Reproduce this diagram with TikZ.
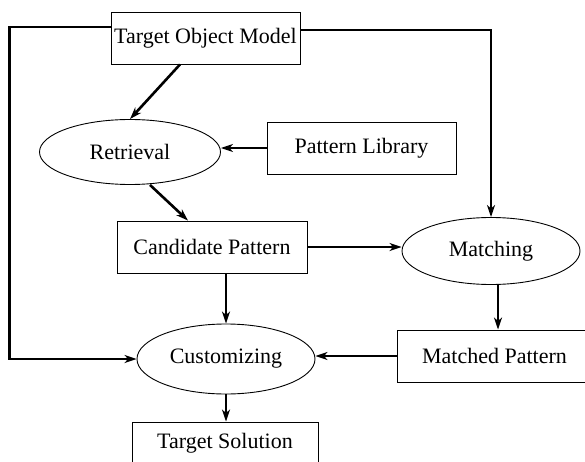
\documentclass[tikz,border=0pt]{standalone}
\usepackage{fontspec}
\setmainfont{Liberation Serif}
\usetikzlibrary{shapes.geometric,arrows.meta}
\begin{document}
\begin{tikzpicture}[x=1pt,y=-1pt,
  font=\fontsize{22}{26}\selectfont,
  box/.style={draw,line width=0.9pt,rectangle,inner sep=0pt,minimum height=52pt},
  oval/.style={draw,line width=0.9pt,ellipse,inner sep=0pt},
  flow/.style={line width=2.6pt,-{Stealth[length=12pt,width=8pt,inset=3.5pt]}}]
\clip (0,0) rectangle (585,462);

% boxes
\node[box,minimum width=189pt] (tom) at (205.5,38) {Target Object Model};
\node[box,minimum width=189pt] (lib) at (361.5,148) {Pattern Library};
\node[box,minimum width=190pt] (cand) at (212,247) {Candidate Pattern};
\node[box,minimum width=195pt] (matched) at (494.5,356) {Matched Pattern};
\node[box,minimum width=186pt,minimum height=42pt] (sol) at (225,443) {Target Solution};

% process ovals
\node[oval,minimum width=181pt,minimum height=65pt] (retr) at (130,152) {Retrieval};
\node[oval,minimum width=178pt,minimum height=67pt] (match) at (491,251) {Matching};
\node[oval,minimum width=178pt,minimum height=70pt] (cust) at (226,359) {Customizing};

% connectors
\draw[flow] ([xshift=-25.5pt]tom.south) -- (retr.north);
\draw[flow] (lib.west) -- (lib.west -| retr.east);
\draw[flow] ([xshift=20pt]retr.south) -- ([xshift=-24pt]cand.north);
\draw[flow] (cand.east) -- (cand.east -| match.west);
\draw[flow] (cust.north |- cand.south) -- (cust.north);
\draw[flow] ([yshift=8pt]tom.east) -| (match.north);
\draw[flow] ([yshift=11pt]tom.west) -- ++(-101,0) |- (cust.west);
\coordinate (mx) at ([xshift=7pt]match.south);
\draw[flow] (mx) -- (mx |- matched.north);
\draw[flow] (matched.west) -- (matched.west -| cust.east);
\draw[flow] (cust.south) -- (cust.south |- sol.north);
\end{tikzpicture}
\end{document}
